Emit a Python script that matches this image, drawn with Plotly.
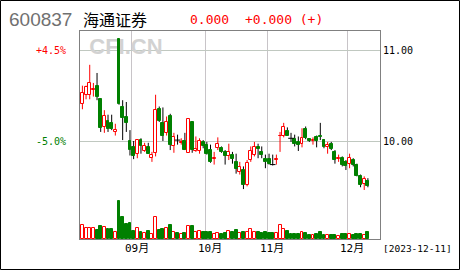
import plotly.graph_objects as go

# ---------------- data ----------------
month_days = {
    8: [14, 15, 16, 17, 18, 21, 22, 23, 24, 25, 28, 29, 30, 31],
    9: [1, 4, 5, 6, 7, 8, 11, 12, 13, 14, 15, 18, 19, 20, 21, 22, 25, 26, 27, 28],
    10: [9, 10, 11, 12, 13, 16, 17, 18, 19, 20, 23, 24, 25, 26, 27, 30, 31],
    11: [1, 2, 3, 6, 7, 8, 9, 10, 13, 14, 15, 16, 17, 20, 21, 22, 23, 24, 27, 28, 29, 30],
    12: [1, 4, 5, 6, 7, 8],
}
dates = [f"2023-{m:02d}-{d:02d}" for m, ds in month_days.items() for d in ds]

open_ = [10.41, 10.51, 10.51, 10.56, 10.61, 10.46, 10.15, 10.22, 10.20, 10.10,
         11.12, 10.38, 10.26, 10.00, 9.93, 9.86, 10.01, 9.89, 9.93, 9.81,
         9.87, 10.35, 10.20, 10.09, 10.28, 9.94, 10.01, 9.98, 10.00, 9.87,
         10.21, 9.89, 9.89, 9.99, 9.96, 9.90, 9.80, 9.92, 9.92, 9.88,
         9.83, 9.85, 9.77, 9.66, 9.68, 9.51, 9.79, 9.85, 9.93, 9.88,
         9.80, 9.80, 9.74, 9.79, 10.05, 10.05, 10.11, 10.03, 10.02, 9.99,
         9.97, 10.13, 10.02, 10.00, 10.04, 10.06, 10.01, 9.93, 9.97, 9.88,
         9.80, 9.81, 9.77, 9.75, 9.79, 9.74, 9.61, 9.53, 9.56]
close = [10.53, 10.60, 10.64, 10.57, 10.49, 10.14, 10.28, 10.13, 10.13, 10.12,
         10.41, 10.25, 10.20, 9.90, 9.83, 10.01, 9.94, 9.94, 9.86, 9.85,
         10.34, 10.22, 10.06, 10.21, 9.96, 10.04, 10.01, 9.99, 9.90, 10.24,
         9.90, 9.91, 10.00, 9.94, 9.86, 9.77, 9.81, 9.97, 9.88, 9.83,
         9.88, 9.80, 9.69, 9.71, 9.51, 9.76, 9.89, 9.93, 9.91, 9.85,
         9.77, 9.75, 9.74, 9.80, 10.06, 10.15, 10.06, 10.03, 9.97, 9.96,
         10.03, 10.03, 10.00, 10.01, 10.00, 10.04, 9.93, 9.96, 9.91, 9.79,
         9.81, 9.74, 9.72, 9.81, 9.73, 9.61, 9.51, 9.58, 9.50]
high = [10.61, 10.61, 10.84, 10.64, 10.75, 10.46, 10.34, 10.29, 10.29, 10.19,
        11.12, 10.45, 10.43, 10.12, 10.00, 10.01, 10.03, 9.98, 9.98, 9.88,
        10.51, 10.38, 10.37, 10.27, 10.30, 10.09, 10.07, 10.03, 10.09, 10.25,
        10.22, 10.05, 10.03, 10.01, 9.99, 9.96, 9.88, 10.04, 9.94, 9.90,
        9.97, 9.88, 9.86, 9.77, 9.72, 9.79, 9.94, 9.99, 9.97, 9.94,
        9.85, 9.86, 9.85, 9.85, 10.10, 10.20, 10.15, 10.09, 10.07, 10.05,
        10.14, 10.16, 10.03, 10.04, 10.06, 10.20, 10.02, 9.99, 9.99, 9.90,
        9.85, 9.83, 9.79, 9.86, 9.81, 9.75, 9.63, 9.61, 9.59]
low = [10.35, 10.46, 10.46, 10.49, 10.45, 10.10, 10.09, 10.10, 10.12, 10.06,
       10.40, 10.01, 10.10, 9.84, 9.80, 9.81, 9.86, 9.88, 9.86, 9.77,
       9.83, 10.21, 10.00, 10.06, 9.90, 9.87, 9.96, 9.96, 9.90, 9.87,
       9.87, 9.88, 9.86, 9.92, 9.85, 9.76, 9.74, 9.90, 9.87, 9.74,
       9.79, 9.75, 9.64, 9.63, 9.47, 9.50, 9.77, 9.83, 9.81, 9.81,
       9.70, 9.74, 9.73, 9.74, 9.88, 10.04, 10.06, 9.99, 9.94, 9.89,
       9.93, 10.02, 9.99, 9.96, 9.93, 10.01, 9.92, 9.86, 9.90, 9.75,
       9.77, 9.72, 9.68, 9.70, 9.72, 9.61, 9.49, 9.46, 9.49]
volume = [143, 110, 110, 110, 93, 133, 120, 103, 103, 70,
          383, 225, 148, 165, 77, 110, 70, 60, 83, 53,
          220, 87, 100, 110, 143, 70, 60, 50, 60, 133,
          133, 70, 80, 73, 73, 73, 50, 60, 47, 60,
          80, 67, 93, 60, 67, 70, 100, 70, 73, 60,
          67, 60, 60, 60, 140, 100, 77, 53, 53, 53,
          70, 60, 43, 43, 53, 67, 43, 43, 43, 43,
          33, 50, 53, 53, 43, 50, 53, 43, 67]  # 万手

stock_code = "600837"
stock_name = "海通证券"
last_price = "0.000"
change_text = "+0.000 (+)"
price_ticks = [11.00, 10.00]
price_tick_text = ["11.00", "10.00"]
pct_text = ["+4.5%", "-5.0%"]
as_of = "[2023-12-11]"
watermark = "CFI.CN"

# ---------------- derived ----------------
RED = "#ff0000"
GREEN = "#008000"
n = len(dates)
idx = list(range(n))
is_up = [c > o for o, c in zip(open_, close)]
is_flat = [c == o for o, c in zip(open_, close)]

wx_r, wy_r, wx_k, wy_k = [], [], [], []
for i in idx:
    if is_up[i]:
        wx_r += [i, i, None]
        wy_r += [low[i], high[i], None]
    else:
        wx_k += [i, i, None]
        wy_k += [low[i], high[i], None]

up_i = [i for i in idx if is_up[i]]
dn_i = [i for i in idx if not is_up[i] and not is_flat[i]]
fl_i = [i for i in idx if is_flat[i]]
vup_i = up_i
vdn_i = [i for i in idx if not is_up[i]]

bounds, mlabels = [], []
for i in range(1, n):
    if dates[i][5:7] != dates[i - 1][5:7]:
        bounds.append(i - 0.5)
        mlabels.append(dates[i][5:7] + "月")

# plot area 80..380 x, 31..239 y
PX = 3.66
xr = [-2.4 / PX, -2.4 / PX + 300 / PX]
yr = [8.9195, 11.2128]

fig = go.Figure()
# wicks (base layer)
fig.add_trace(go.Scatter(x=wx_r, y=wy_r, mode="lines", line=dict(color=RED, width=1), hoverinfo="skip"))
fig.add_trace(go.Scatter(x=wx_k, y=wy_k, mode="lines", line=dict(color="black", width=1), hoverinfo="skip"))
# watermark under candles
fig.add_trace(go.Scatter(x=[11.9], y=[11.025], mode="text", text=[watermark],
                         textfont=dict(family="Liberation Sans", size=22, color="#d2d2d2", weight="bold"),
                         hoverinfo="skip"))
# bodies (overlay layer y2)
fig.add_trace(go.Bar(x=up_i, y=[close[i] - open_[i] for i in up_i], base=[open_[i] for i in up_i],
                     width=0.8, marker=dict(color="white", line=dict(color=RED, width=1)),
                     yaxis="y2", hoverinfo="skip"))
fig.add_trace(go.Bar(x=dn_i, y=[open_[i] - close[i] for i in dn_i], base=[close[i] for i in dn_i],
                     width=0.8, marker=dict(color=GREEN, line=dict(color=GREEN, width=1)),
                     yaxis="y2", hoverinfo="skip"))
fig.add_trace(go.Scatter(x=fl_i, y=[open_[i] for i in fl_i], mode="markers", yaxis="y2",
                         marker=dict(symbol="line-ew", size=4, line=dict(color="black", width=1)),
                         hoverinfo="skip"))
# volume (overlay layer y3)
fig.add_trace(go.Bar(x=vup_i, y=[volume[i] for i in vup_i], width=0.8,
                     marker=dict(color="white", line=dict(color=RED, width=1)),
                     yaxis="y3", hoverinfo="skip"))
fig.add_trace(go.Bar(x=vdn_i, y=[volume[i] for i in vdn_i], width=0.8,
                     marker=dict(color=GREEN, line=dict(color=GREEN, width=1)),
                     yaxis="y3", hoverinfo="skip"))

fig.update_layout(
    width=460, height=270,
    margin=dict(l=80, r=80, t=31, b=31, pad=0),
    paper_bgcolor="white", plot_bgcolor="white",
    showlegend=False, barmode="overlay", bargap=0,
    xaxis=dict(range=xr, tickvals=bounds, showticklabels=False, ticks="",
               showgrid=True, gridcolor="#c8c4c8", gridwidth=1,
               showline=True, linecolor="#808080", linewidth=1, mirror=True, zeroline=False),
    yaxis=dict(range=yr, tickvals=price_ticks, showticklabels=False, ticks="",
               showgrid=True, gridcolor="#c0c8c0", gridwidth=1,
               showline=True, linecolor="#808080", linewidth=1, mirror=True, zeroline=False),
    yaxis2=dict(range=yr, overlaying="y", visible=False),
    yaxis3=dict(range=[0, 2080], overlaying="y", visible=False),
)

MONO = "DejaVu Sans Mono"
ann = []
for v, t in zip(price_ticks, price_tick_text):
    ann.append(dict(x=1.0045, xref="paper", y=v, yref="y", text=t, xanchor="left", yanchor="middle",
                    showarrow=False, font=dict(family=MONO, size=10, color="black")))
for v, t, c in zip(price_ticks, pct_text, [RED, GREEN]):
    ann.append(dict(x=-0.041, xref="paper", y=v, yref="y", text=t, xanchor="right", yanchor="middle",
                    showarrow=False, font=dict(family=MONO, size=10, color=c)))
for b, t in zip(bounds, mlabels):
    ann.append(dict(x=b + 4.7 / PX, xref="x", y=-0.046, yref="paper", text=t, xanchor="center",
                    yanchor="middle", showarrow=False,
                    font=dict(family=MONO + ", Noto Sans CJK SC", size=11, color="black")))
ann.append(dict(x=1.125, xref="paper", y=-0.046, yref="paper", text=as_of, xanchor="center",
                yanchor="middle", showarrow=False, font=dict(family=MONO, size=9.5, color="black")))
ann.append(dict(x=(6.5 - 80) / 300, xref="paper", y=1.0553, yref="paper", text=stock_code,
                xanchor="left", yanchor="middle", showarrow=False,
                font=dict(family="Liberation Sans", size=19, color="#707070")))
ann.append(dict(x=(81 - 80) / 300, xref="paper", y=1.0553, yref="paper", text=stock_name,
                xanchor="left", yanchor="middle", showarrow=False,
                font=dict(family="Noto Sans CJK SC", size=16, color="black")))
ann.append(dict(x=(187.5 - 80) / 300, xref="paper", y=1.0553, yref="paper", text=last_price,
                xanchor="left", yanchor="middle", showarrow=False,
                font=dict(family=MONO, size=13, color=RED)))
ann.append(dict(x=(243 - 80) / 300, xref="paper", y=1.0553, yref="paper", text=change_text,
                xanchor="left", yanchor="middle", showarrow=False,
                font=dict(family=MONO, size=13, color=RED)))
fig.update_layout(annotations=ann)

fig.add_shape(type="rect", xref="paper", yref="paper",
              x0=-79.5 / 300, x1=1 + 79.5 / 300, y0=-30.5 / 208, y1=1 + 30.5 / 208,
              line=dict(color="black", width=1), fillcolor="rgba(0,0,0,0)")

fig.write_html("out.html")
